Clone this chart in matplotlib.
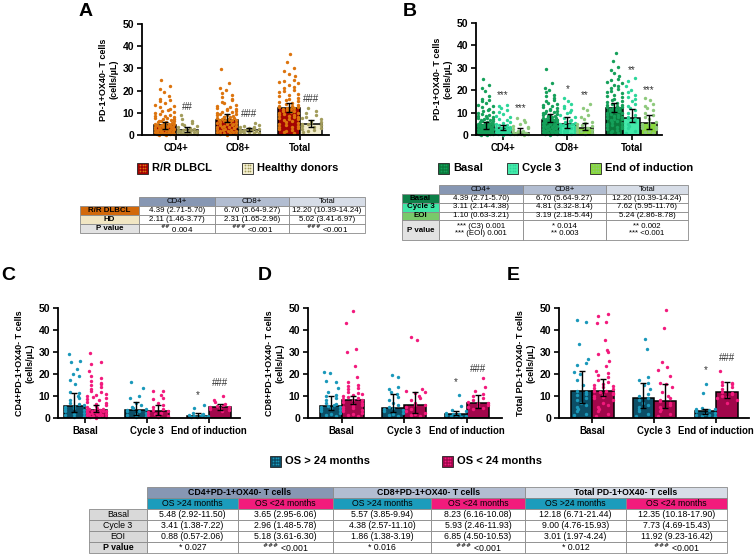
import matplotlib
matplotlib.use("Agg")
import matplotlib.pyplot as plt
from matplotlib.patches import Rectangle
import numpy as np

plt.rcParams['font.family'] = ['Liberation Sans', 'DejaVu Sans']

# ---------------- data ----------------
cats_ab = ['CD4+', 'CD8+', 'Total']
cats_cde = ['Basal', 'Cycle 3', 'End of induction']

# panel A: R/R DLBCL (also Basal in B) and healthy donors
rr_cd4 = [25.0, 22.1, 20.8, 19.5, 17.6, 16.2, 15.8, 15.1, 14.2, 13.6, 13.1, 12.4, 11.8, 11.2, 10.9, 10.3,
          9.8, 9.5, 9.1, 8.7, 8.4, 8.0, 7.8, 7.5, 7.2, 7.0, 6.8, 6.5, 6.3, 6.1, 5.9, 5.7, 5.5, 5.3, 5.1,
          4.9, 4.8, 4.6, 4.5, 4.4, 4.3, 4.2, 4.0, 3.9, 3.8, 3.6, 3.5, 3.4, 3.2, 3.1, 3.0, 2.9, 2.8, 2.7,
          2.6, 2.5, 2.3, 2.2, 2.1, 2.0, 1.9, 1.8, 1.6, 1.5, 1.4, 1.3, 1.2, 1.1, 1.0, 0.9, 0.8, 0.7, 0.6,
          0.5, 0.4, 0.3, 0.2, 0.1]
rr_cd8 = [29.6, 23.4, 21.2, 20.1, 19.0, 17.8, 17.2, 16.4, 15.6, 15.0, 14.3, 13.7, 13.2, 12.8, 12.3, 11.9,
          11.5, 11.1, 10.8, 10.5, 10.2, 9.9, 9.6, 9.3, 9.1, 8.8, 8.6, 8.3, 8.1, 7.9, 7.7, 7.5, 7.3, 7.1,
          6.9, 6.8, 6.7, 6.6, 6.4, 6.2, 6.0, 5.8, 5.6, 5.4, 5.2, 5.0, 4.8, 4.6, 4.4, 4.2, 4.0, 3.8, 3.6,
          3.4, 3.2, 3.0, 2.8, 2.6, 2.4, 2.2, 2.0, 1.8, 1.6, 1.4, 1.2, 1.0, 0.8, 0.6, 0.4, 0.2]
rr_tot = [36.6, 33.0, 30.2, 29.0, 27.5, 26.4, 25.0, 24.4, 23.8, 23.2, 22.5, 21.8, 21.0, 20.4, 19.8, 19.2,
          18.6, 18.0, 17.4, 16.8, 16.2, 15.7, 15.2, 14.8, 14.4, 14.0, 13.6, 13.2, 12.9, 12.6, 12.4, 12.2,
          12.0, 11.8, 11.5, 11.2, 10.9, 10.6, 10.3, 10.0, 9.7, 9.4, 9.1, 8.8, 8.5, 8.2, 7.9, 7.6, 7.3,
          7.0, 6.6, 6.2, 5.8, 5.4, 5.0, 4.6, 4.2, 3.8, 3.4, 3.0, 2.6, 2.2, 1.8, 1.4, 1.0]
hd_cd4 = [9.0, 7.0, 6.4, 5.6, 5.0, 4.4, 3.9, 3.6, 3.2, 2.9, 2.6, 2.4, 2.2, 2.1, 2.0, 1.8, 1.6, 1.5, 1.3,
          1.1, 0.9, 0.7, 0.5, 0.3]
hd_cd8 = [5.5, 4.5, 4.0, 3.8, 3.5, 3.2, 3.0, 2.8, 2.6, 2.4, 2.3, 2.2, 2.0, 1.8, 1.7, 1.5, 1.3, 1.1, 0.9, 0.7]
hd_tot = [12.0, 11.0, 10.0, 9.0, 8.0, 7.5, 7.0, 6.5, 6.0, 5.5, 5.0, 4.8, 4.5, 4.0, 3.5, 3.0, 2.5, 2.2,
          2.0, 1.5]
rr_med = [4.39, 6.70, 12.20]
rr_lo = [2.71, 5.64, 10.39]
rr_hi = [5.70, 9.27, 14.24]
hd_med = [2.11, 2.31, 5.02]
hd_lo = [1.46, 1.65, 3.41]
hd_hi = [3.77, 2.96, 6.97]
a_pvals = ['$^{\\#\\#}$ 0.004', '$^{\\#\\#\\#}$ <0.001', '$^{\\#\\#\\#}$ <0.001']
a_marks = ['##', '###', '###']
a_mark_y = [12.6, 9.5, 16.2]

# panel B: cycle 3 and end of induction
c3_cd4 = [13.6, 13.0, 12.1, 11.2, 10.3, 9.5, 8.6, 8.0, 7.2, 6.6, 6.0, 5.5, 5.0, 4.6, 4.3, 4.0, 3.7, 3.5,
          3.3, 3.1, 3.0, 2.8, 2.6, 2.4, 2.2, 2.0, 1.8, 1.6, 1.4, 1.2, 1.0, 0.8, 0.6, 0.4, 0.2]
c3_cd8 = [16.6, 15.2, 14.0, 13.1, 12.2, 11.3, 10.4, 9.6, 8.8, 8.1, 7.4, 6.8, 6.2, 5.6, 5.2, 4.9, 4.8, 4.6,
          4.3, 4.0, 3.6, 3.3, 3.0, 2.7, 2.4, 2.1, 1.8, 1.5, 1.2, 0.9, 0.6, 0.3]
c3_tot = [25.5, 24.0, 22.0, 20.0, 19.0, 18.0, 17.0, 16.0, 15.0, 14.0, 13.0, 12.0, 11.0, 10.0, 9.0, 8.0,
          7.6, 7.0, 6.0, 5.0, 4.0, 3.0, 2.0, 1.0]
eoi_cd4 = [7.7, 6.6, 5.6, 4.8, 4.0, 3.5, 3.0, 2.5, 2.0, 1.6, 1.3, 1.2, 1.1, 1.0, 0.9, 0.8, 0.7, 0.6, 0.5,
           0.4, 0.3, 0.2]
eoi_cd8 = [14.0, 12.0, 11.0, 9.0, 8.0, 7.0, 6.0, 5.5, 5.0, 4.5, 4.0, 3.5, 3.2, 3.0, 2.8, 2.5, 2.2, 2.0,
           1.5, 1.0, 0.5]
eoi_tot = [16.5, 15.5, 14.0, 13.0, 12.0, 11.0, 10.0, 9.0, 8.0, 7.0, 6.0, 5.2, 5.0, 4.5, 4.0, 3.5, 3.0,
           2.5, 2.0, 1.5, 1.0]
c3_med = [3.11, 4.81, 7.62]
c3_lo = [2.14, 3.32, 5.95]
c3_hi = [4.38, 8.14, 11.76]
eoi_med = [1.10, 3.19, 5.24]
eoi_lo = [0.63, 2.18, 2.86]
eoi_hi = [3.21, 5.44, 8.78]
b_pvals = ['*** (C3) 0.001\n*** (EOI) 0.001', '* 0.014\n** 0.003', '** 0.002\n*** <0.001']
b_marks_c3 = ['***', '*', '**']
b_marks_c3_y = [17.9, 20.5, 29.0]
b_marks_eoi = ['***', '**', '***']
b_marks_eoi_y = [12.0, 17.9, 20.0]

# panels C-E: OS > 24 months (long) and OS < 24 months (short), at basal / cycle 3 / EOI
c_long = [[29.0, 26.0, 25.5, 22.5, 20.0, 19.0, 17.5, 15.5, 12.0, 11.5, 10.0, 9.0, 8.0, 7.0, 6.5, 6.0,
           5.5, 5.0, 4.5, 4.0, 3.5, 3.0, 2.5, 2.0, 1.5, 1.0, 0.5],
          [16.5, 13.5, 10.0, 9.0, 7.0, 6.0, 5.0, 4.5, 4.0, 3.5, 3.4, 3.0, 2.5, 2.0, 1.5, 1.0, 0.5],
          [6.0, 4.5, 2.5, 2.0, 1.5, 1.2, 1.0, 0.9, 0.8, 0.6, 0.5, 0.4]]
c_short = [[29.5, 25.5, 24.5, 21.5, 19.0, 18.0, 17.0, 16.0, 15.5, 15.0, 14.0, 13.0, 12.5, 12.0, 11.0,
            10.5, 10.0, 9.5, 9.0, 8.5, 8.0, 7.5, 7.0, 6.5, 6.0, 5.5, 5.0, 4.5, 4.2, 4.0, 3.8, 3.6, 3.5,
            3.4, 3.2, 3.0, 2.8, 2.6, 2.4, 2.2, 2.0, 1.8, 1.6, 1.4, 1.2, 1.0, 0.8, 0.6, 0.4, 0.2],
           [12.5, 12.4, 10.5, 9.0, 8.5, 7.0, 6.0, 5.0, 4.0, 3.5, 3.0, 2.9, 2.5, 2.0, 1.5, 1.0, 0.5],
           [10.0, 8.0, 7.2, 6.5, 6.0, 5.5, 5.2, 5.0, 4.5, 4.0, 3.5, 3.0]]
d_long = [[21.0, 20.5, 17.0, 16.5, 13.5, 12.0, 10.5, 10.0, 9.0, 8.0, 7.0, 6.5, 6.0, 5.6, 5.2, 5.0, 4.5,
           4.0, 3.5, 3.0, 2.5, 2.0, 1.5, 1.0],
          [19.5, 18.5, 14.0, 13.0, 12.0, 11.0, 9.5, 8.0, 7.0, 6.0, 5.0, 4.4, 4.0, 3.5, 3.0, 2.5, 2.0, 1.5,
           1.0],
          [10.5, 5.5, 3.5, 3.0, 2.5, 2.0, 1.9, 1.5, 1.2, 1.0, 0.8, 0.5]]
d_short = [[48.5, 43.0, 31.5, 30.0, 23.5, 18.5, 16.5, 15.0, 14.5, 13.5, 13.0, 12.0, 11.5, 11.0, 10.5,
            10.0, 9.5, 9.0, 8.5, 8.2, 8.0, 7.5, 7.0, 6.5, 6.0, 5.5, 5.0, 4.5, 4.0, 3.5, 3.0, 2.5, 2.0,
            1.5, 1.0],
           [37.0, 35.5, 13.0, 12.5, 12.0, 11.5, 10.0, 9.0, 8.0, 7.0, 6.0, 5.9, 5.0, 4.0, 3.0, 2.5, 2.0,
            1.5, 1.0],
           [18.0, 14.0, 12.5, 11.0, 10.0, 9.0, 8.0, 7.5, 7.0, 6.8, 6.0, 5.5, 5.0, 4.5, 4.0]]
e_long = [[44.5, 43.5, 33.5, 27.0, 25.0, 24.0, 21.0, 20.0, 17.5, 15.0, 12.5, 12.0, 11.0, 10.5, 9.0, 8.0,
           7.0, 6.0, 5.0, 4.0, 3.0, 2.0, 1.5],
          [36.0, 31.5, 18.5, 17.5, 16.0, 15.0, 13.0, 11.0, 10.0, 9.0, 8.0, 7.0, 6.0, 5.0, 4.0, 3.0, 2.0,
           1.0],
          [15.5, 11.5, 4.5, 4.2, 4.0, 3.5, 3.0, 2.5, 2.0, 1.5, 1.2, 1.0, 0.8]]
e_short = [[47.5, 46.5, 43.5, 43.0, 35.5, 31.0, 30.0, 29.0, 26.0, 23.5, 21.5, 20.5, 19.5, 18.5, 17.5,
            16.5, 15.5, 15.0, 14.5, 14.0, 13.5, 13.0, 12.5, 12.3, 12.0, 11.5, 11.0, 10.5, 10.0, 9.5,
            9.0, 8.0, 7.0, 6.0, 5.0, 4.0, 3.0, 2.0, 1.0],
           [49.0, 41.0, 25.5, 23.0, 22.0, 19.0, 16.0, 15.5, 14.0, 12.0, 10.0, 9.0, 8.0, 7.7, 7.0, 6.0,
            5.0, 4.0, 3.0, 2.0, 1.0],
           [21.5, 16.5, 16.0, 15.5, 15.0, 14.0, 13.0, 12.0, 11.5, 11.0, 10.0, 9.5, 9.0, 8.0, 7.0]]
c_med_long = [5.48, 3.41, 0.88]
c_lo_long = [2.92, 1.38, 0.57]
c_hi_long = [11.50, 7.22, 2.06]
c_med_short = [3.65, 2.96, 5.18]
c_lo_short = [2.95, 1.48, 3.61]
c_hi_short = [6.06, 5.78, 6.30]
d_med_long = [5.57, 4.38, 1.86]
d_lo_long = [3.85, 2.57, 1.38]
d_hi_long = [9.94, 11.10, 3.19]
d_med_short = [8.23, 5.93, 6.85]
d_lo_short = [6.16, 2.46, 4.50]
d_hi_short = [10.08, 11.93, 10.53]
e_med_long = [12.18, 9.00, 3.01]
e_lo_long = [6.71, 4.76, 1.97]
e_hi_long = [21.44, 15.93, 4.24]
e_med_short = [12.35, 7.73, 11.92]
e_lo_short = [10.18, 4.69, 9.23]
e_hi_short = [17.90, 15.43, 16.42]
cde_pvals = ['* 0.027', '$^{\\#\\#\\#}$ <0.001', '* 0.016', '$^{\\#\\#\\#}$ <0.001',
             '* 0.012', '$^{\\#\\#\\#}$ <0.001']
cde_star_y = [10.5, 16.4, 21.8]
cde_hash_y = [15.9, 22.3, 27.3]

# ---------------- colours ----------------
col_rr, dot_rr = '#a30303', '#dc740e'
col_hd, dot_hd = '#f3eecf', '#a29c5c'
col_bas, dot_bas = '#0b7a3d', '#15a05a'
col_c3, dot_c3 = '#45eaab', '#2cd699'
col_eoi, dot_eoi = '#88d83c', '#8ec97c'
col_long, dot_long = '#0c4e66', '#1a98ba'
col_short, dot_short = '#a1074b', '#f21a7d'

W, H = 754, 554
fig = plt.figure(figsize=(W / 100, H / 100), dpi=100)


def px_axes(x0, x1, y0, y1):
    return fig.add_axes([x0 / W, 1 - y1 / H, (x1 - x0) / W, (y1 - y0) / H])


def spread(vals, width, step=1.6):
    # deterministic swarm: points in the same value band are spread across the bar
    vals = np.asarray(vals, dtype=float)
    bins = np.floor(vals / step).astype(int)
    offs = np.zeros(len(vals))
    half = width * 0.44
    for b in np.unique(bins):
        idx = np.where(bins == b)[0]
        k = len(idx)
        if k == 1:
            offs[idx] = ((b * 0.618) % 1 * 2 - 1) * half * 0.8
            continue
        if k == 2:
            pos = np.array([-0.5, 0.5]) * half
        else:
            pos = np.linspace(-1, 1, k) * half
        order = np.argsort((np.arange(k) * 0.618 + b * 0.3) % 1)
        offs[idx] = pos[order]
    return offs


def draw_group(ax, x, vals, med, lo, hi, width, bc, dc):
    ax.bar(x, med, width, color=bc, edgecolor='black', linewidth=1.1, zorder=1)
    ax.scatter(x + spread(vals, width), vals, s=6, color=dc, linewidths=0, zorder=2, clip_on=False)
    ax.errorbar(x, med, yerr=[[med - lo], [hi - med]], fmt='none', ecolor='black',
                elinewidth=1.0, capsize=2.5, capthick=1.0, zorder=3)


def style_axes(ax, cats, ylabel, xlim):
    ax.set_ylim(0, 50)
    ax.set_yticks(range(0, 51, 10))
    ax.set_xlim(*xlim)
    ax.set_xticks(range(len(cats)))
    ax.set_xticklabels(cats)
    for s in ['top', 'right']:
        ax.spines[s].set_visible(False)
    for s in ['left', 'bottom']:
        ax.spines[s].set_linewidth(1.3)
    ax.tick_params(direction='out', length=3.5, width=1.2, labelsize=7.5, pad=2)
    ax.tick_params(axis='x', labelsize=6.9)
    for lab in ax.get_xticklabels() + ax.get_yticklabels():
        lab.set_fontweight('bold')
    ax.set_ylabel(ylabel, fontsize=6.5, fontweight='bold', labelpad=3, linespacing=1.2)


# ---------------- panel A ----------------
axA = px_axes(142, 329, 24, 135)
rr_all = [rr_cd4, rr_cd8, rr_tot]
hd_all = [hd_cd4, hd_cd8, hd_tot]
for i in range(3):
    draw_group(axA, i - 0.18, rr_all[i], rr_med[i], rr_lo[i], rr_hi[i], 0.35, col_rr, dot_rr)
    draw_group(axA, i + 0.18, hd_all[i], hd_med[i], hd_lo[i], hd_hi[i], 0.35, col_hd, dot_hd)
    axA.text(i + 0.18, a_mark_y[i], a_marks[i], ha='center', va='center', fontsize=7, color='#333333')
style_axes(axA, cats_ab, 'PD-1+OX40- T cells\n(cells/µL)', (-0.55, 2.47))

# ---------------- panel B ----------------
axB = px_axes(476, 662, 23, 135)
c3_all = [c3_cd4, c3_cd8, c3_tot]
eoi_all = [eoi_cd4, eoi_cd8, eoi_tot]
for i in range(3):
    draw_group(axB, i - 0.27, rr_all[i], rr_med[i], rr_lo[i], rr_hi[i], 0.26, col_bas, dot_bas)
    draw_group(axB, i, c3_all[i], c3_med[i], c3_lo[i], c3_hi[i], 0.26, col_c3, dot_c3)
    draw_group(axB, i + 0.27, eoi_all[i], eoi_med[i], eoi_lo[i], eoi_hi[i], 0.26, col_eoi, dot_eoi)
    axB.text(i, b_marks_c3_y[i], b_marks_c3[i], ha='center', va='center', fontsize=7, color='#333333')
    axB.text(i + 0.27, b_marks_eoi_y[i], b_marks_eoi[i], ha='center', va='center', fontsize=7,
             color='#333333')
style_axes(axB, cats_ab, 'PD-1+OX40- T cells\n(cells/µL)', (-0.42, 2.47))

# ---------------- panels C, D, E ----------------
cde = [
    ((58, 240), (-0.44, 2.5), 'CD4+PD-1+OX40- T cells\n(cells/µL)', c_long, c_short,
     (c_med_long, c_lo_long, c_hi_long), (c_med_short, c_lo_short, c_hi_short)),
    ((308, 502), (-0.54, 2.56), 'CD8+PD-1+OX40- T cells\n(cells/µL)', d_long, d_short,
     (d_med_long, d_lo_long, d_hi_long), (d_med_short, d_lo_short, d_hi_short)),
    ((559, 749), (-0.54, 2.53), 'Total PD-1+OX40- T cells\n(cells/µL)', e_long, e_short,
     (e_med_long, e_lo_long, e_hi_long), (e_med_short, e_lo_short, e_hi_short)),
]
for k, (xs, xl, yl, lng, sht, sl, ss) in enumerate(cde):
    ax = px_axes(xs[0], xs[1], 308, 418)
    for i in range(3):
        draw_group(ax, i - 0.175, lng[i], sl[0][i], sl[1][i], sl[2][i], 0.35, col_long, dot_long)
        draw_group(ax, i + 0.175, sht[i], ss[0][i], ss[1][i], ss[2][i], 0.35, col_short, dot_short)
    ax.text(2 - 0.175, cde_star_y[k], '*', ha='center', va='center', fontsize=7, color='#333333')
    ax.text(2 + 0.175, cde_hash_y[k], '###', ha='center', va='center', fontsize=7, color='#333333')
    style_axes(ax, cats_cde, yl, xl)

# ---------------- overlay: labels, legends, tables ----------------
ov = fig.add_axes([0, 0, 1, 1], zorder=10)
ov.set_xlim(0, W)
ov.set_ylim(H, 0)
ov.axis('off')
ov.patch.set_alpha(0)

for lab, x, y in [('A', 86, 12), ('B', 410, 11), ('C', 8, 276), ('D', 265, 276), ('E', 513, 276)]:
    ov.text(x, y, lab, ha='center', va='center', fontsize=14, fontweight='bold')


def legend_item(x, y, fc, dc, label):
    ov.add_patch(Rectangle((x, y - 5.5), 11, 11, facecolor=fc, edgecolor='#222222', linewidth=0.6))
    gx, gy = np.meshgrid([x + 2.8, x + 5.5, x + 8.2], [y - 2.7, y, y + 2.7])
    ov.scatter(gx.ravel(), gy.ravel(), s=1.6, color=dc, linewidths=0)
    ov.text(x + 15, y, label, ha='left', va='center', fontsize=8, fontweight='bold')


legend_item(137, 168, col_rr, dot_rr, 'R/R DLBCL')
legend_item(242, 168, col_hd, dot_hd, 'Healthy donors')
legend_item(438, 168, col_bas, dot_bas, 'Basal')
legend_item(507, 168, col_c3, dot_c3, 'Cycle 3')
legend_item(590, 168, col_eoi, dot_eoi, 'End of induction')
legend_item(270, 461, col_long, dot_long, 'OS > 24 months')
legend_item(442, 461, col_short, dot_short, 'OS < 24 months')


def cell(x0, x1, y0, y1, txt='', fc='white', weight='normal', size=5.7):
    ov.add_patch(Rectangle((x0, y0), x1 - x0, y1 - y0, facecolor=fc, edgecolor='#8a8a8a',
                           linewidth=0.6))
    if txt:
        ov.text((x0 + x1) / 2, (y0 + y1) / 2, txt, ha='center', va='center', fontsize=size,
                fontweight=weight, linespacing=1.1)


def fmt(m, lo, hi):
    return f'{m:.2f} ({lo:.2f}-{hi:.2f})'


head_cols = ['#8797b3', '#b2bdd1', '#d7dde7']

# table A
xa = [80, 139, 215, 289, 365]
ya = [197, 206, 215, 224, 233]
for j in range(3):
    cell(xa[j + 1], xa[j + 2], ya[0], ya[1], cats_ab[j], head_cols[j])
rows_a = [('R/R DLBCL', '#d2690b', [fmt(rr_med[j], rr_lo[j], rr_hi[j]) for j in range(3)]),
          ('HD', '#f1e6c3', [fmt(hd_med[j], hd_lo[j], hd_hi[j]) for j in range(3)]),
          ('P value', '#e2e2e2', a_pvals)]
for r, (name, fc, vals) in enumerate(rows_a):
    cell(xa[0], xa[1], ya[r + 1], ya[r + 2], name, fc, 'bold')
    for j in range(3):
        cell(xa[j + 1], xa[j + 2], ya[r + 1], ya[r + 2], vals[j])

# table B
xb = [402, 439, 523, 606, 688]
yb = [185, 193.5, 202.5, 211.5, 220, 240]
for j in range(3):
    cell(xb[j + 1], xb[j + 2], yb[0], yb[1], cats_ab[j], head_cols[j])
rows_b = [('Basal', '#0d8048', [fmt(rr_med[j], rr_lo[j], rr_hi[j]) for j in range(3)]),
          ('Cycle 3', '#3ee6a6', [fmt(c3_med[j], c3_lo[j], c3_hi[j]) for j in range(3)]),
          ('EOI', '#79c96a', [fmt(eoi_med[j], eoi_lo[j], eoi_hi[j]) for j in range(3)]),
          ('P value', '#e2e2e2', b_pvals)]
for r, (name, fc, vals) in enumerate(rows_b):
    cell(xb[0], xb[1], yb[r + 1], yb[r + 2], name, fc, 'bold')
    for j in range(3):
        cell(xb[j + 1], xb[j + 2], yb[r + 1], yb[r + 2], vals[j])

# bottom table
xc = [89, 147, 238, 333, 431, 525, 626, 727]
yc = [487, 498, 509, 520, 531, 542, 553]
groups = ['CD4+PD-1+OX40- T cells', 'CD8+PD-1+OX40- T cells', 'Total PD-1+OX40- T cells']
for g in range(3):
    cell(xc[2 * g + 1], xc[2 * g + 3], yc[0], yc[1], groups[g], head_cols[g], 'bold', 6.3)
    cell(xc[2 * g + 1], xc[2 * g + 2], yc[1], yc[2], 'OS >24 months', '#1c9cbc', size=6.3)
    cell(xc[2 * g + 2], xc[2 * g + 3], yc[1], yc[2], 'OS <24 months', '#f21b7c', size=6.3)
stats = [(c_med_long, c_lo_long, c_hi_long), (c_med_short, c_lo_short, c_hi_short),
         (d_med_long, d_lo_long, d_hi_long), (d_med_short, d_lo_short, d_hi_short),
         (e_med_long, e_lo_long, e_hi_long), (e_med_short, e_lo_short, e_hi_short)]
row_names = ['Basal', 'Cycle 3', 'EOI']
for r in range(3):
    cell(xc[0], xc[1], yc[r + 2], yc[r + 3], row_names[r], '#d9d9d9', size=6.3)
    for j in range(6):
        m, lo, hi = stats[j]
        cell(xc[j + 1], xc[j + 2], yc[r + 2], yc[r + 3], fmt(m[r], lo[r], hi[r]), size=6.3)
cell(xc[0], xc[1], yc[5], yc[6], 'P value', '#d9d9d9', 'bold', 6.3)
for j in range(6):
    cell(xc[j + 1], xc[j + 2], yc[5], yc[6], cde_pvals[j], size=6.3)

fig.savefig('out.png', dpi=100)
